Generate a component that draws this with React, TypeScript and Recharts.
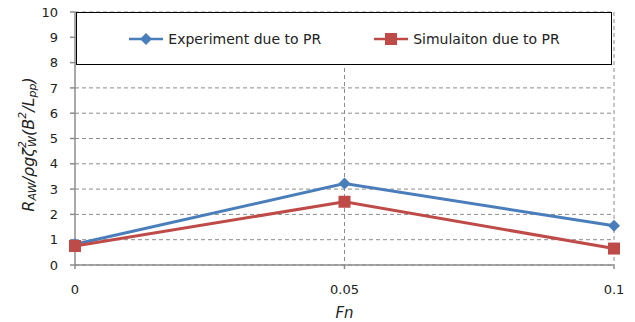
import { LineChart, Line, XAxis, YAxis, CartesianGrid, Legend, Label } from 'recharts';

const fnValues = [0, 0.05, 0.1];
const experimentPR = [0.82, 3.22, 1.55];
const simulationPR = [0.75, 2.5, 0.65];
const xTicks = [0, 0.05, 0.1];
const yTicks = [0, 1, 2, 3, 4, 5, 6, 7, 8, 9, 10];

const data = fnValues.map((fn, i) => ({
  fn,
  experiment: experimentPR[i],
  simulation: simulationPR[i],
}));

const BLUE = '#4A7EBB';
const RED = '#BE4B48';
const FONT = '"DejaVu Sans", Verdana, sans-serif';

const Diamond = ({ cx, cy, fill }: any) => (
  <path d={`M${cx},${cy - 6} L${cx + 6},${cy} L${cx},${cy + 6} L${cx - 6},${cy} Z`} fill={fill} />
);

const Square = ({ cx, cy, fill }: any) => (
  <rect x={cx - 6} y={cy - 6} width={12} height={12} fill={fill} />
);

const series = [
  { key: 'experiment', name: 'Experiment due to PR', color: BLUE, Marker: Diamond },
  { key: 'simulation', name: 'Simulaiton due to PR', color: RED, Marker: Square },
];

function LegendBox() {
  return (
    <div
      style={{
        width: 534,
        height: 51,
        border: '1px solid #000',
        background: '#fff',
        display: 'flex',
        alignItems: 'center',
        justifyContent: 'center',
        gap: 52,
        fontFamily: FONT,
        fontSize: 14,
        color: '#222',
      }}
    >
      {series.map(({ key, name, color, Marker }) => (
        <div key={key} style={{ display: 'flex', alignItems: 'center' }}>
          <svg width={36} height={14} style={{ marginRight: 4 }}>
            <line x1={1} y1={7} x2={35} y2={7} stroke={color} strokeWidth={2.5} />
            <Marker cx={18} cy={7} fill={color} />
          </svg>
          <span>{name}</span>
        </div>
      ))}
    </div>
  );
}

function YTitle({ viewBox }: any) {
  const cx = viewBox.x + 28;
  const cy = viewBox.y + viewBox.height / 2 + 6;
  return (
    <text
      x={cx}
      y={cy}
      transform={`rotate(-90 ${cx} ${cy})`}
      textAnchor="middle"
      dominantBaseline="central"
      fontFamily={FONT}
      fontStyle="italic"
      fontSize={16}
      fill="#222"
    >
      R<tspan fontSize={11} dy={4}>AW</tspan>
      <tspan dy={-4}>/ρgζ</tspan>
      <tspan fontSize={11} dy={-6}>2</tspan>
      <tspan fontSize={11} dy={10} dx={-6}>W</tspan>
      <tspan dy={-4}>(B</tspan>
      <tspan fontSize={11} dy={-6}>2</tspan>
      <tspan dy={6}>/L</tspan>
      <tspan fontSize={11} dy={4}>pp</tspan>
      <tspan dy={-4}>)</tspan>
    </text>
  );
}

export default function App() {
  return (
    <div style={{ position: 'absolute', left: 0, top: 0, width: 635, height: 322, background: '#fff' }}>
      <LineChart width={635} height={322} data={data} margin={{ top: 12, right: 21, bottom: 0, left: 0 }}>
        <CartesianGrid stroke="#8c8c8c" strokeDasharray="4 3" verticalPoints={[344.5, 614]} />
        <XAxis
          dataKey="fn"
          type="number"
          domain={[0, 0.1]}
          ticks={xTicks}
          height={57}
          stroke="#8c8c8c"
          strokeWidth={1.5}
          tickSize={4}
          tickMargin={16}
          tick={{ fill: '#222', fontSize: 13, fontFamily: FONT }}
        >
          <Label
            value="Fn"
            position="insideBottom"
            offset={4}
            style={{ fontFamily: FONT, fontSize: 15, fontStyle: 'italic', fill: '#222' }}
          />
        </XAxis>
        <YAxis
          type="number"
          domain={[0, 10]}
          ticks={yTicks}
          interval={0}
          width={75}
          stroke="#8c8c8c"
          strokeWidth={1.5}
          tickSize={5}
          tickMargin={12}
          tick={{ fill: '#222', fontSize: 13, fontFamily: FONT }}
        >
          <Label content={<YTitle />} />
        </YAxis>
        <Legend
          layout="horizontal"
          verticalAlign="middle"
          align="center"
          content={<LegendBox />}
          wrapperStyle={{ top: 12, left: 76, width: 536, height: 53 }}
        />
        {series.map(({ key, name, color, Marker }) => (
          <Line
            key={key}
            dataKey={key}
            name={name}
            stroke={color}
            strokeWidth={3}
            dot={(p: any) => <Marker key={`${key}-${p.index}`} cx={p.cx} cy={p.cy} fill={color} />}
            activeDot={false}
            isAnimationActive={false}
          />
        ))}
      </LineChart>
    </div>
  );
}
